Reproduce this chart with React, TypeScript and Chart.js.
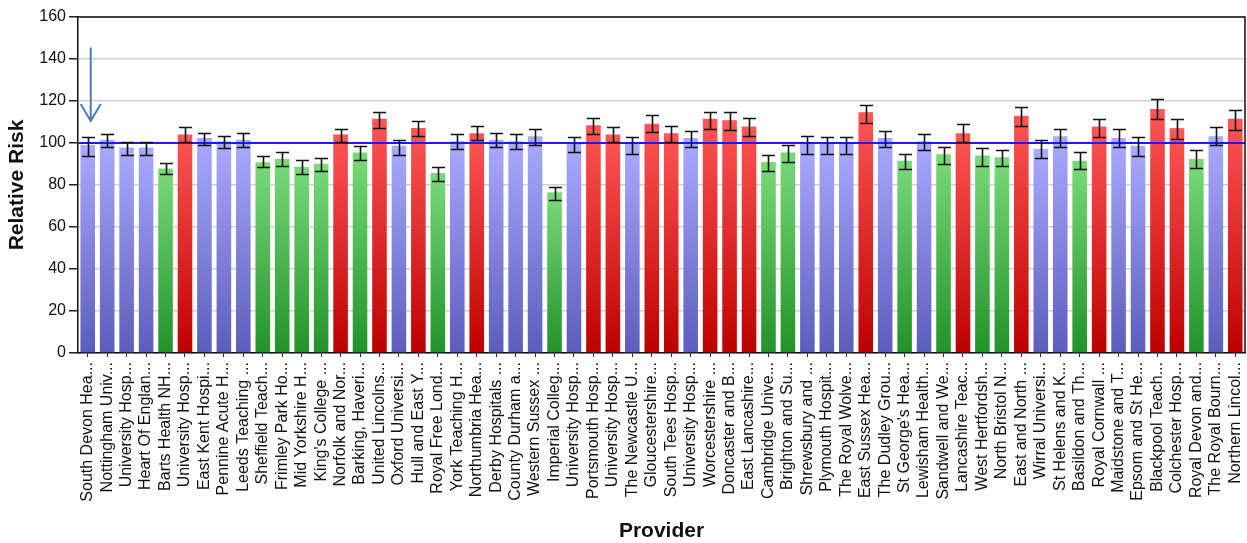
import React, { useEffect, useRef } from "react";
import { Chart, registerables } from "chart.js";

Chart.register(...registerables);

const providers: string[] = [
  "South Devon Hea...", "Nottingham Univ...", "University Hosp...", "Heart Of Englan...", "Barts Health NH...",
  "University Hosp...", "East Kent Hospi...", "Pennine Acute H...", "Leeds Teaching ...", "Sheffield Teach...",
  "Frimley Park Ho...", "Mid Yorkshire H...", "King's College ...", "Norfolk and Nor...", "Barking, Haveri...",
  "United Lincolns...", "Oxford Universi...", "Hull and East Y...", "Royal Free Lond...", "York Teaching H...",
  "Northumbria Hea...", "Derby Hospitals ...", "County Durham a...", "Western Sussex ...", "Imperial Colleg...",
  "University Hosp...", "Portsmouth Hosp...", "University Hosp...", "The Newcastle U...", "Gloucestershire...",
  "South Tees Hosp...", "University Hosp...", "Worcestershire ...", "Doncaster and B...", "East Lancashire...",
  "Cambridge Unive...", "Brighton and Su...", "Shrewsbury and ...", "Plymouth Hospit...", "The Royal Wolve...",
  "East Sussex Hea...", "The Dudley Grou...", "St George's Hea...", "Lewisham Health...", "Sandwell and We...",
  "Lancashire Teac...", "West Hertfordsh...", "North Bristol N...", "East and North ...", "Wirral Universi...",
  "St Helens and K...", "Basildon and Th...", "Royal Cornwall ...", "Maidstone and T...", "Epsom and St He...",
  "Blackpool Teach...", "Colchester Hosp...", "Royal Devon and...", "The Royal Bourn...", "Northern Lincol...",
];

const relativeRisk: number[] = [
  99, 101.6, 97.9, 97.9, 87.8, 104, 102.4, 100.8, 101.6, 90.8,
  92.4, 88.6, 90.1, 104, 95.5, 111.6, 98.7, 107.1, 85.7, 100.8,
  104.7, 101.6, 100.8, 103.2, 76.5, 99.7, 108.4, 104, 99.7, 109.2,
  104.7, 102.4, 111.6, 110.8, 107.8, 90.9, 95.5, 99.7, 99.7, 99.7,
  114.6, 102.4, 91.6, 100.8, 94.7, 104.7, 94, 93.2, 113, 97.1,
  103.2, 91.6, 107.8, 102.4, 98.7, 116.2, 107, 92.4, 103.2, 111.6,
];

const lowerCI: number[] = [
  93.6, 98.2, 94.4, 94.4, 85.4, 100.3, 98.9, 97.4, 98.2, 88.4,
  88.9, 85.1, 86.8, 100.3, 92, 107.1, 94.4, 103.5, 82, 97.3,
  101.2, 98.2, 97.3, 99, 73, 95.7, 104.3, 100.3, 94.9, 105.1,
  100.6, 98.2, 106.8, 106.3, 103.5, 86.8, 91.1, 95, 95, 95,
  109.5, 98.2, 87.6, 96.6, 89.8, 100.3, 89, 89, 108.2, 92.8,
  98.2, 87.6, 102.8, 98.2, 93.6, 111.2, 102, 88.2, 99, 106.3,
];

const upperCI: number[] = [
  102.8, 104.3, 100.5, 100.5, 90.5, 107.4, 105, 103.5, 105, 93.6,
  95.7, 92, 92.8, 106.6, 98.4, 115, 101.3, 110.6, 88.4, 104.3,
  107.9, 105, 104.3, 106.6, 79.2, 102.8, 111.9, 107.4, 102.8, 113.5,
  107.9, 105.9, 115, 115, 111.9, 94.4, 99, 103.5, 102.8, 102.8,
  118, 105.9, 95, 104.3, 98.2, 108.9, 97.4, 96.6, 117.3, 101.2,
  106.6, 95.9, 111.2, 106.6, 102.8, 121.1, 111.2, 96.6, 107.4, 115.8,
];

// H = higher than expected, L = lower than expected, N = as expected
const status: string[] = [
  "N", "N", "N", "N", "L", "H", "N", "N", "N", "L",
  "L", "L", "L", "H", "L", "H", "N", "H", "L", "N",
  "H", "N", "N", "N", "L", "N", "H", "H", "N", "H",
  "H", "N", "H", "H", "H", "L", "L", "N", "N", "N",
  "H", "N", "L", "N", "L", "H", "L", "L", "H", "N",
  "N", "L", "H", "N", "N", "H", "H", "L", "N", "H",
];

const yTicks: number[] = [0, 20, 40, 60, 80, 100, 120, 140, 160];
const referenceValue = 100;
const arrowFrom = 145.5;
const arrowTo = 110.5;

const gradientStops: Record<string, [string, string]> = {
  N: ["#aaaaff", "#5c5cbc"],
  H: ["#ff5656", "#bd0000"],
  L: ["#7ada7a", "#22922a"],
};

export default function App() {
  const canvasRef = useRef<HTMLCanvasElement | null>(null);

  useEffect(() => {
    document.body.style.margin = "0";
    const canvas = canvasRef.current;
    if (!canvas) return;

    const overlay = {
      id: "overlay",
      afterDatasetsDraw(chart: any) {
        const { ctx, chartArea, scales } = chart;
        const x = scales.x;
        const y = scales.y;
        ctx.save();
        // reference line
        const yr = y.getPixelForValue(referenceValue);
        ctx.strokeStyle = "#1a1aff";
        ctx.lineWidth = 2;
        ctx.beginPath();
        ctx.moveTo(chartArea.left, yr);
        ctx.lineTo(chartArea.right, yr);
        ctx.stroke();
        // error bars
        ctx.strokeStyle = "#111111";
        ctx.lineWidth = 1.6;
        for (let i = 0; i < relativeRisk.length; i++) {
          const cx = Math.round(x.getPixelForValue(i)) + 0.5;
          const yl = Math.round(y.getPixelForValue(lowerCI[i])) + 0.5;
          const yu = Math.round(y.getPixelForValue(upperCI[i])) + 0.5;
          ctx.beginPath();
          ctx.moveTo(cx, yl);
          ctx.lineTo(cx, yu);
          ctx.moveTo(cx - 6.5, yl);
          ctx.lineTo(cx + 6.5, yl);
          ctx.moveTo(cx - 6.5, yu);
          ctx.lineTo(cx + 6.5, yu);
          ctx.stroke();
        }
        // frame top and right
        ctx.strokeStyle = "#111111";
        ctx.lineWidth = 1.5;
        ctx.beginPath();
        ctx.moveTo(chartArea.left, chartArea.top);
        ctx.lineTo(chartArea.right, chartArea.top);
        ctx.lineTo(chartArea.right, chartArea.bottom);
        ctx.stroke();
        // arrow
        const ax = x.getPixelForValue(0) + 3;
        const a1 = y.getPixelForValue(arrowFrom);
        const a2 = y.getPixelForValue(arrowTo);
        ctx.strokeStyle = "#4a7ebb";
        ctx.lineWidth = 2;
        ctx.beginPath();
        ctx.moveTo(ax, a1);
        ctx.lineTo(ax, a2);
        ctx.moveTo(ax - 10, a2 - 17);
        ctx.lineTo(ax, a2);
        ctx.lineTo(ax + 10, a2 - 17);
        ctx.stroke();
        ctx.restore();
      },
    };

    const chart = new Chart(canvas, {
      type: "bar",
      data: {
        labels: providers,
        datasets: [
          {
            label: "Relative Risk",
            data: relativeRisk,
            barPercentage: 0.75,
            categoryPercentage: 1,
            backgroundColor: (c: any) => {
              const ch = c.chart;
              const idx = c.dataIndex;
              const stops = gradientStops[status[idx] || "N"];
              const ys = ch.scales && ch.scales.y;
              if (!ch.chartArea || !ys || idx === undefined) return stops[0];
              const top = ys.getPixelForValue(relativeRisk[idx]);
              const bottom = ys.getPixelForValue(0);
              const g = ch.ctx.createLinearGradient(0, top, 0, bottom);
              g.addColorStop(0, stops[0]);
              g.addColorStop(1, stops[1]);
              return g;
            },
            borderWidth: 0,
          },
        ],
      },
      options: {
        responsive: false,
        animation: false,
        devicePixelRatio: 1,
        layout: { padding: { top: 17, right: 2, left: 0, bottom: 0 } },
        plugins: {
          legend: { display: false },
          tooltip: { enabled: false },
        },
        scales: {
          x: {
            type: "category",
            offset: true,
            grid: {
              display: true,
              drawOnChartArea: false,
              offset: false,
              tickLength: 4,
              tickColor: "#222",
            },
            border: { color: "#111", width: 1.5 },
            ticks: {
              autoSkip: false,
              maxRotation: 90,
              minRotation: 90,
              padding: 5,
              color: "#111",
              font: { family: "'Liberation Sans', Arial, sans-serif", size: 16 },
            },
            title: {
              display: true,
              text: "Provider",
              color: "#111",
              font: { family: "'Liberation Sans', Arial, sans-serif", size: 21, weight: "bold", lineHeight: 1.1 },
              padding: { top: 0, bottom: 0 },
            },
            afterFit: (scale: any) => {
              scale.height = 190;
              scale.paddingLeft = 0;
              scale.paddingRight = 0;
            },
          },
          y: {
            min: 0,
            max: 160,
            afterBuildTicks: (scale: any) => {
              scale.ticks = yTicks.map((v) => ({ value: v }));
            },
            grid: {
              color: "#d2d2d2",
              lineWidth: 1.5,
              tickColor: "#222",
              tickLength: 9,
            },
            border: { color: "#111", width: 1.5 },
            ticks: {
              padding: 3,
              color: "#111",
              font: { family: "'Liberation Sans', Arial, sans-serif", size: 16 },
            },
            title: {
              display: true,
              text: "Relative Risk",
              color: "#111",
              font: { family: "'Liberation Sans', Arial, sans-serif", size: 21, weight: "bold", lineHeight: 1.2 },
              padding: { top: 5, bottom: 0 },
            },
            afterFit: (scale: any) => {
              scale.width = 78;
            },
          },
        },
      },
      plugins: [overlay],
    } as any);

    return () => {
      chart.destroy();
    };
  }, []);

  return (
    <div style={{ width: 1247, height: 543 }}>
      <canvas ref={canvasRef} width={1247} height={543} style={{ display: "block" }} />
    </div>
  );
}
